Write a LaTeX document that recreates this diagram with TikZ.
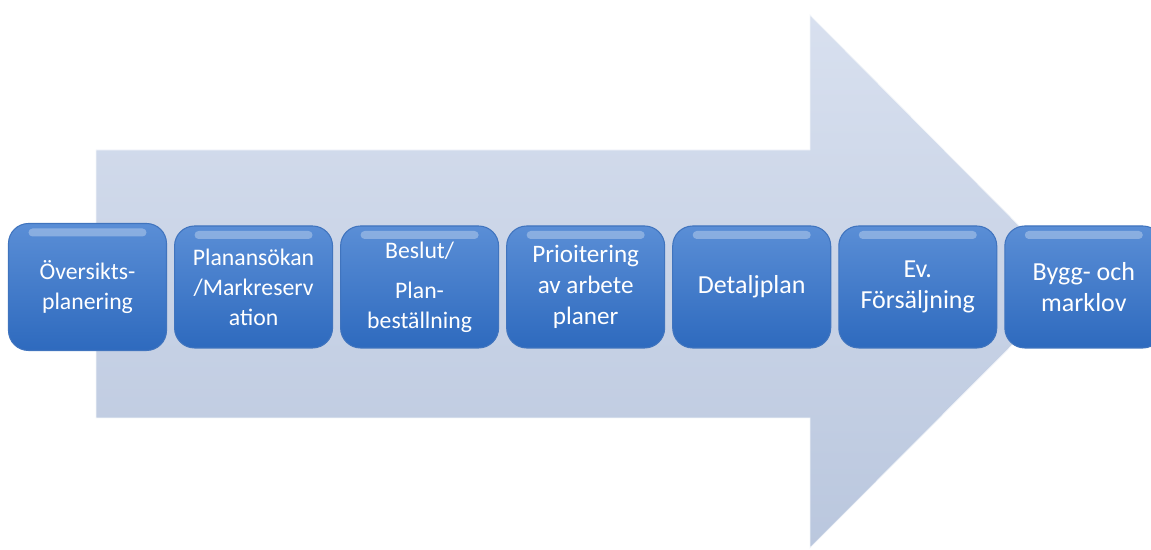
\documentclass[tikz,border=0pt]{standalone}
\usepackage{fontspec}
\setmainfont{Carlito}
\usetikzlibrary{positioning}
\definecolor{boxtop}{RGB}{90,142,214}
\definecolor{boxbottom}{RGB}{46,106,190}
\definecolor{boxedge}{RGB}{64,116,190}
\definecolor{arrowtop}{RGB}{216,224,239}
\definecolor{arrowbottom}{RGB}{186,199,222}
\begin{document}
\begin{tikzpicture}

		\tikzstyle{stage}=[rectangle,rounded corners=0.4cm,
			top color=boxtop,bottom color=boxbottom,draw=boxedge,semithick,
			minimum height=2.44cm,minimum width=3.16cm,inner sep=1mm,
			text=white,align=center,font=\fontsize{13.5}{17}\selectfont,
			path picture={\fill[white,opacity=0.3,rounded corners=0.08cm]
				([xshift=0.4cm,yshift=-0.1cm]path picture bounding box.north west) rectangle
				([xshift=-0.4cm,yshift=-0.26cm]path picture bounding box.north east);}]
		\tikzstyle{bigtext}=[font=\fontsize{14.8}{18}\selectfont]

		\useasboundingbox (0,0) rectangle (23.02,11);

		% big arrow behind the stages
		\path[top color=arrowtop,bottom color=arrowbottom,draw=white!70!arrowtop,thin]
			(1.92,8.0) -- (16.2,8.0) -- (16.2,10.7) -- (21.5,5.36)
			-- (16.2,0.04) -- (16.2,2.64) -- (1.92,2.64) -- cycle;

		\node[stage,minimum height=2.54cm]	(oversikt)	at (1.75,5.26)	{Översikts-\\planering};
		\node[stage,right=0.14cm of oversikt]	(ansokan)	{Planansökan\\/Markreserv\\ation};
		\node[stage,right=0.14cm of ansokan]	(beslut)	{Beslut/\\[0.2cm]Plan-\\beställning};
		\node[stage,right=0.14cm of beslut,font=\fontsize{14.3}{17.5}\selectfont]	(prio)	{Prioitering\\av arbete\\planer};
		\node[stage,bigtext,right=0.14cm of prio]	(detalj)	{Detaljplan};
		\node[stage,bigtext,right=0.14cm of detalj]	(forsalj)	{Ev.\\Försäljning};
		\node[stage,bigtext,right=0.14cm of forsalj]	(lov)	{Bygg- och\\marklov};

	\end{tikzpicture}
\end{document}
